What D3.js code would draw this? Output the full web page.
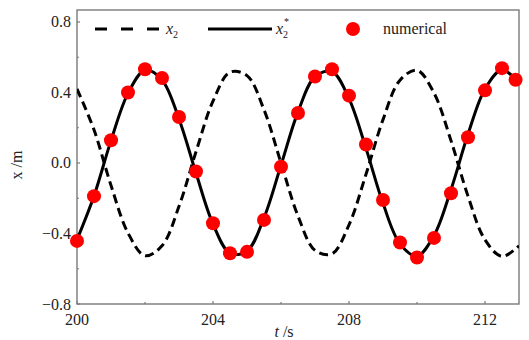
<!DOCTYPE html>
<html><head><meta charset="utf-8">
<script src="https://cdn.jsdelivr.net/npm/d3@7"></script>
<style>body{margin:0;background:#fff}svg{display:block}</style>
</head><body><svg id="c" width="529" height="340"></svg>
<script>
// Data
const timeSamples = [200,200.5,201,201.5,202,202.5,203,203.5,204,204.5,205,205.5,206,206.5,207,207.5,208,208.5,209,209.5,210,210.5,211,211.5,212,212.5,213];
const x2Values = [0.42,0.188,-0.127,-0.397,-0.526,-0.470,-0.246,0.064,0.351,0.515,0.496,0.302,0.000,-0.301,-0.496,-0.515,-0.351,-0.064,0.246,0.470,0.526,0.397,0.127,-0.188,-0.436,-0.530,-0.470];
const x2StarValues = [-0.435,-0.187,0.127,0.395,0.526,0.471,0.250,-0.057,-0.346,-0.512,-0.500,-0.311,-0.013,0.290,0.490,0.518,0.365,0.083,-0.229,-0.459,-0.528,-0.412,-0.151,0.163,0.420,0.529,0.453];
const numericalTimes = [200,200.5,201,201.5,202,202.5,203,203.5,204,204.5,205,205.5,206,206.5,207,207.5,208,208.5,209,209.5,210,210.5,211,211.5,212,212.5,212.9];
const numericalValues = [-0.442,-0.188,0.129,0.400,0.532,0.482,0.261,-0.048,-0.342,-0.512,-0.504,-0.323,-0.021,0.284,0.491,0.532,0.382,0.105,-0.210,-0.451,-0.536,-0.425,-0.172,0.146,0.412,0.538,0.472];
const xTickValues = [200,204,208,212];
const xMinorTicks = [202,206,210];
const yTickValues = [-0.8,-0.4,0.0,0.4,0.8];
const yMinorTicks = [-0.6,-0.2,0.2,0.6];

const svg = d3.select('#c');
const L = 77, R = 519, T = 10, B = 304;
const x = d3.scaleLinear().domain([200,213]).range([L,R]);
const y = d3.scaleLinear().domain([-0.8,0.868]).range([B,T]);
const serif = '"Liberation Serif","DejaVu Serif",serif';
const axisColor = '#7a7a7a';

// frame
svg.append('rect').attr('x',L).attr('y',T).attr('width',R-L).attr('height',B-T)
  .attr('fill','none').attr('stroke',axisColor).attr('stroke-width',1.4);

// ticks (inward)
const g = svg.append('g');
xTickValues.forEach(v=>g.append('line').attr('x1',x(v)).attr('x2',x(v)).attr('y1',B).attr('y2',B-3).attr('stroke',axisColor).attr('stroke-width',1.2));
xMinorTicks.forEach(v=>g.append('line').attr('x1',x(v)).attr('x2',x(v)).attr('y1',B).attr('y2',B-2).attr('stroke',axisColor).attr('stroke-width',1.2));
yTickValues.forEach(v=>g.append('line').attr('x1',L).attr('x2',L+3).attr('y1',y(v)).attr('y2',y(v)).attr('stroke',axisColor).attr('stroke-width',1.2));
yMinorTicks.forEach(v=>g.append('line').attr('x1',L).attr('x2',L+2).attr('y1',y(v)).attr('y2',y(v)).attr('stroke',axisColor).attr('stroke-width',1.2));

// tick labels
svg.append('g').selectAll('text').data(xTickValues).join('text')
  .attr('x',d=>x(d)).attr('y',325).attr('text-anchor','middle')
  .attr('font-family',serif).attr('font-size',16).attr('fill','#222').text(d=>d);
svg.append('g').selectAll('text').data(yTickValues).join('text')
  .attr('x',71).attr('y',d=>y(d)+5.5).attr('text-anchor','end')
  .attr('font-family',serif).attr('font-size',16).attr('fill','#222')
  .text(d=>d3.format('.1f')(d).replace('-','\u2212'));

// axis titles
const xt = svg.append('text').attr('x',284).attr('y',337).attr('text-anchor','middle')
  .attr('font-family',serif).attr('font-size',16).attr('fill','#222');
xt.append('tspan').attr('font-style','italic').text('t');
xt.append('tspan').text('\u00a0/s');
const yt = svg.append('text').attr('transform','translate(22,165) rotate(-90)').attr('text-anchor','middle')
  .attr('font-family',serif).attr('font-size',16).attr('fill','#222');
yt.append('tspan').text('x');
yt.append('tspan').text('\u00a0/m');

// curves
const clip = svg.append('clipPath').attr('id','clp').append('rect').attr('x',L).attr('y',T).attr('width',R-L).attr('height',B-T);
const line = (vals)=>d3.line().x((d,i)=>x(timeSamples[i])).y(d=>y(d)).curve(d3.curveCatmullRom.alpha(0.5))(vals);
svg.append('path').attr('d',line(x2Values)).attr('fill','none').attr('stroke','#000')
  .attr('stroke-width',3).attr('stroke-dasharray','9,5').attr('clip-path','url(#clp)');
svg.append('path').attr('d',line(x2StarValues)).attr('fill','none').attr('stroke','#000')
  .attr('stroke-width',3).attr('clip-path','url(#clp)');

// numerical dots
svg.append('g').selectAll('circle').data(numericalValues).join('circle')
  .attr('cx',(d,i)=>x(numericalTimes[i])).attr('cy',d=>y(d)).attr('r',7).attr('fill','#ff0000');

// legend
const ly = 29;
svg.append('line').attr('x1',95).attr('x2',159).attr('y1',ly).attr('y2',ly).attr('stroke','#000')
  .attr('stroke-width',3).attr('stroke-dasharray','12,14');
const l1 = svg.append('text').attr('x',166).attr('y',34).attr('font-family',serif).attr('font-size',16).attr('fill','#222');
l1.append('tspan').attr('font-style','italic').text('x');
l1.append('tspan').attr('font-size',10).attr('dy',4).text('2');
svg.append('line').attr('x1',208).attr('x2',272).attr('y1',ly).attr('y2',ly).attr('stroke','#000').attr('stroke-width',3);
const l2 = svg.append('text').attr('x',276).attr('y',34).attr('font-family',serif).attr('font-size',16).attr('fill','#222');
l2.append('tspan').attr('font-style','italic').text('x');
l2.append('tspan').attr('font-size',10).attr('dy',4).text('2');
l2.append('tspan').attr('font-size',10).attr('dx',-4).attr('dy',-13).text('*');
svg.append('circle').attr('cx',353).attr('cy',ly).attr('r',7).attr('fill','#ff0000');
svg.append('text').attr('x',383).attr('y',34).attr('font-family',serif).attr('font-size',16).attr('fill','#222').text('numerical');
</script></body></html>
